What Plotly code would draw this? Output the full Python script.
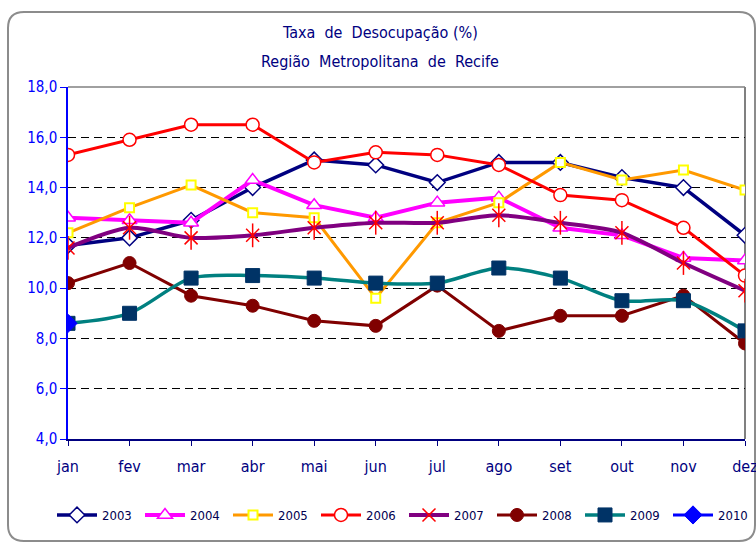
import plotly.graph_objects as go

months = ["jan", "fev", "mar", "abr", "mai", "jun", "jul", "ago", "set", "out", "nov", "dez"]
y_ticks = [4, 6, 8, 10, 12, 14, 16, 18]
y_ticktext = ["4,0", "6,0", "8,0", "10,0", "12,0", "14,0", "16,0", "18,0"]

s2003 = [11.7, 12.0, 12.7, 14.0, 15.1, 14.9, 14.2, 15.0, 15.0, 14.4, 14.0, 12.1]
s2004 = [12.8, 12.7, 12.6, 14.3, 13.3, 12.8, 13.4, 13.6, 12.4, 12.1, 11.2, 11.1]
s2005 = [12.2, 13.2, 14.1, 13.0, 12.8, 9.6, 12.6, 13.4, 15.0, 14.3, 14.7, 13.9]
s2006 = [15.3, 15.9, 16.5, 16.5, 15.0, 15.4, 15.3, 14.9, 13.7, 13.5, 12.4, 10.5]
s2007 = [11.6, 12.4, 12.0, 12.1, 12.4, 12.6, 12.6, 12.9, 12.6, 12.2, 11.0, 9.9]
s2008 = [10.2, 11.0, 9.7, 9.3, 8.7, 8.5, 10.1, 8.3, 8.9, 8.9, 9.7, 7.8]
s2009 = [8.6, 9.0, 10.4, 10.5, 10.4, 10.2, 10.2, 10.8, 10.4, 9.5, 9.5, 8.3]
s2010 = [8.6]

FONT = "DejaVu Sans Condensed, Liberation Sans Narrow, Liberation Sans, Arial, sans-serif"
W, H = 756, 544
L, R, T, B = 68, 745, 87, 439  # plot area in px

xi = list(range(len(months)))

fig = go.Figure()

def add(name, vals, lcol, lw, sym, msize, mfill, mline, mlw, shape="linear", show=True):
    fig.add_trace(go.Scatter(
        x=xi[:len(vals)], y=vals, name=name, mode="lines+markers",
        line=dict(color=lcol, width=lw, shape=shape, smoothing=0.8 if shape == "spline" else None),
        marker=dict(symbol=sym, size=msize, color=mfill, line=dict(color=mline, width=mlw)),
        showlegend=show, legendgroup=name,
    ))

add("2003", s2003, "#000080", 3.5, "diamond", 12, "white", "#000080", 1.5)
add("2004", s2004, "#FF00FF", 4, "triangle-up", 13, "white", "#FF00FF", 1.5)
add("2005", s2005, "#FF9900", 3, "square", 9, "white", "#FFFF00", 2)
add("2006", s2006, "#FF0000", 3, "circle", 13, "white", "#FF0000", 1.5)
add("2007", s2007, "#800080", 4, "x-thin-open", 13, "#FF0000", "#FF0000", 1.5, shape="spline")
fig.add_trace(go.Scatter(x=xi, y=s2007, mode="markers", showlegend=False, legendgroup="2007",
                         marker=dict(symbol="line-ns-open", size=17, color="#FF0000",
                                     line=dict(color="#FF0000", width=1.5)),
                         hoverinfo="skip"))
add("2008", s2008, "#800000", 3, "circle", 13, "#800000", "#800000", 1)
add("2009", s2009, "#008080", 3.5, "square", 14, "#003366", "#003366", 1, shape="spline")
add("2010", s2010, "#0000FF", 3, "diamond", 14, "#0000FF", "#0000FF", 1)

pw, ph = R - L, B - T
def px(x):
    return (x - L) / pw
def py(y):
    return (B - y) / ph

# rounded chart-area border
x0, x1, y0, y1, r = 8, 755, 12, 541, 16
path = (f"M {px(x0+r)},{py(y0)} L {px(x1-r)},{py(y0)} Q {px(x1)},{py(y0)} {px(x1)},{py(y0+r)} "
        f"L {px(x1)},{py(y1-r)} Q {px(x1)},{py(y1)} {px(x1-r)},{py(y1)} "
        f"L {px(x0+r)},{py(y1)} Q {px(x0)},{py(y1)} {px(x0)},{py(y1-r)} "
        f"L {px(x0)},{py(y0+r)} Q {px(x0)},{py(y0)} {px(x0+r)},{py(y0)} Z")
shapes = [dict(type="path", path=path, xref="paper", yref="paper",
               line=dict(color="#8c8c8c", width=2), layer="below")]
shapes.append(dict(type="line", xref="paper", yref="paper", x0=0, x1=1, y0=1, y1=1,
                   line=dict(color="#808080", width=1.5), layer="below"))
shapes.append(dict(type="line", xref="paper", yref="paper", x0=1, x1=1, y0=0, y1=1,
                   line=dict(color="#808080", width=2), layer="below"))

fig.update_layout(
    width=W, height=H,
    margin=dict(l=L, r=W - R, t=T, b=H - B, autoexpand=False),
    paper_bgcolor="white", plot_bgcolor="white",
    showlegend=True,
    shapes=shapes,
    annotations=[
        dict(text="Taxa  de  Desocupação (%)", xref="paper", yref="paper", x=px(380), y=py(32),
             showarrow=False, font=dict(family=FONT, size=16, color="#000080"), xanchor="center", yanchor="middle"),
        dict(text="Região  Metropolitana  de  Recife", xref="paper", yref="paper", x=px(380), y=py(62),
             showarrow=False, font=dict(family=FONT, size=16, color="#000080"), xanchor="center", yanchor="middle"),
    ],
    xaxis=dict(range=[0, 11], tickmode="array", tickvals=xi, ticktext=months,
               showgrid=False, zeroline=False, showline=True, linecolor="#000080", linewidth=1.5,
               ticks="outside", ticklen=5, tickcolor="#000080", tickwidth=1,
               ticklabeloverflow="allow", ticklabelstandoff=7,
               tickfont=dict(family=FONT, size=16, color="#000080")),
    yaxis=dict(range=[4, 18], tickmode="array", tickvals=y_ticks, ticktext=y_ticktext,
               showgrid=True, gridcolor="black", griddash="8px,5px", gridwidth=1, zeroline=False,
               showline=True, linecolor="#0000FF", linewidth=1.5,
               ticks="outside", ticklen=6, tickcolor="#0000FF", tickwidth=1,
               tickfont=dict(family=FONT, size=15, color="#0000FF")),
    legend=dict(orientation="h", x=px(52), y=py(515), xanchor="left", yanchor="middle",
                font=dict(family=FONT, size=13, color="#000050"), itemwidth=40,
                entrywidth=33, entrywidthmode="pixels", bgcolor="rgba(0,0,0,0)",
                tracegroupgap=0),
)

fig.write_html("out.html", config={"displayModeBar": False},
               post_script="document.body.style.margin='0';document.body.style.overflow='hidden';")
